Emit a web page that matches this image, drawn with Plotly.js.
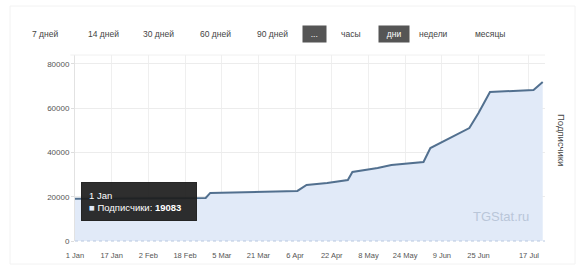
<!DOCTYPE html>
<html>
<head>
<meta charset="utf-8">
<script src="https://cdn.plot.ly/plotly-3.0.1.min.js"></script>
<style>
html,body{margin:0;padding:0;background:#fff;}
#chart{width:577px;height:266px;}
</style>
</head>
<body>
<div id="chart"></div>
<script>
// Data
const dates = ["2020-01-01","2020-02-01","2020-02-27","2020-02-29","2020-03-19","2020-04-07","2020-04-11","2020-04-20","2020-04-29","2020-05-01","2020-05-12","2020-05-18","2020-06-01","2020-06-04","2020-06-21","2020-06-25","2020-06-30","2020-07-19","2020-07-23"];
const subscribers = [19083,19250,19400,21700,22100,22600,25300,26200,27500,31200,33000,34300,35700,42000,51000,57800,67300,68200,71800];
const tickDates = ["2020-01-01","2020-01-17","2020-02-02","2020-02-18","2020-03-05","2020-03-21","2020-04-06","2020-04-22","2020-05-08","2020-05-24","2020-06-09","2020-06-25","2020-07-17"];
const tickLabels = ["1 Jan","17 Jan","2 Feb","18 Feb","5 Mar","21 Mar","6 Apr","22 Apr","8 May","24 May","9 Jun","25 Jun","17 Jul"];
const yTicks = [0,20000,40000,60000,80000];
const buttons = ["7 дней","14 дней","30 дней","60 дней","90 дней","...","часы","дни","недели","месяцы"];
const buttonX = [45,103,158,215,272,314,351,394,433,490];
const activeButtons = ["...","дни"];
const seriesName = "Подписчики";

const L = 75, R = 545, T = 55, B = 241;
const px = x => (x - L) / (R - L);
const py = y => (B - y) / (B - T);
const FONT = 'Arial, Liberation Sans, sans-serif';

const annotations = buttons.map((b, i) => {
  const active = activeButtons.includes(b);
  return {
    xref: 'paper', yref: 'paper', x: px(buttonX[i]), y: py(34),
    xanchor: 'center', yanchor: 'middle',
    text: active ? '&nbsp;&nbsp;' + b + '&nbsp;&nbsp;' : b, showarrow: false,
    font: {family: FONT, size: 8.5, color: active ? '#ffffff' : '#444'},
    bgcolor: active ? '#555555' : 'rgba(0,0,0,0)',
    borderpad: active ? 3 : 2
  };
});
annotations.push({
  xref: 'paper', yref: 'paper', x: px(562), y: py(140), xanchor: 'center', yanchor: 'middle',
  text: seriesName, textangle: 90, showarrow: false,
  font: {family: FONT, size: 9.5, color: '#444'}
});
annotations.push({
  xref: 'paper', yref: 'paper', x: px(531), y: py(216), xanchor: 'right', yanchor: 'middle',
  text: 'TGStat.ru', showarrow: false,
  font: {family: FONT, size: 13, color: '#b9c6d8'}
});
annotations.push({
  xref: 'paper', yref: 'paper', x: px(81), y: py(201), xanchor: 'left', yanchor: 'middle',
  align: 'left',
  text: '1 Jan<br><span style="color:#dfe9f8">■</span> ' + seriesName + ': <b>' + subscribers[0] + '</b>&nbsp;&nbsp;&nbsp;',
  showarrow: false,
  bgcolor: 'rgba(28,28,28,0.92)', bordercolor: 'rgba(28,28,28,0.92)', borderpad: 7,
  font: {family: FONT, size: 9.5, color: '#ffffff'}
});

const trace = {
  x: dates, y: subscribers, type: 'scatter', mode: 'lines',
  line: {color: '#52708f', width: 2},
  fill: 'tozeroy', fillcolor: '#e1eaf8',
  hoverinfo: 'skip'
};

const layout = {
  width: 577, height: 266,
  margin: {l: L, r: 577 - R, t: T, b: 266 - B},
  paper_bgcolor: '#fff', plot_bgcolor: '#fff',
  showlegend: false,
  font: {family: FONT, size: 8, color: '#555'},
  xaxis: {
    type: 'date', range: ['2020-01-01', '2020-07-24'],
    tickvals: tickDates, ticktext: tickLabels,
    showgrid: true, gridcolor: '#efefef', zeroline: false,
    showline: false, ticks: 'outside', ticklen: 7, tickcolor: 'rgba(0,0,0,0)',
    tickfont: {size: 7.5, color: '#555'}
  },
  yaxis: {
    range: [0, 84000], tickvals: yTicks, ticktext: yTicks.map(String),
    showgrid: true, gridcolor: '#ececec', zeroline: false,
    showline: true, linecolor: '#e2e2e2', ticks: 'outside', ticklen: 3, tickcolor: '#ddd',
    tickfont: {size: 8, color: '#555'}
  },
  shapes: [
    {type: 'line', xref: 'paper', yref: 'paper', x0: 0, x1: 1, y0: 0, y1: 0,
     line: {color: '#b8c8e0', width: 1, dash: 'dot'}},
    {type: 'line', xref: 'paper', yref: 'paper', x0: -0.01, x1: 1, y0: 1, y1: 1,
     line: {color: '#f0f0f0', width: 1}},
    {type: 'rect', xref: 'paper', yref: 'paper', x0: px(10), x1: px(575), y0: py(6), y1: py(264),
     line: {color: '#f2f2f2', width: 1}, fillcolor: 'rgba(0,0,0,0)', layer: 'below'}
  ],
  annotations: annotations
};

Plotly.newPlot('chart', [trace], layout, {displayModeBar: false, staticPlot: true});
</script>
</body>
</html>
